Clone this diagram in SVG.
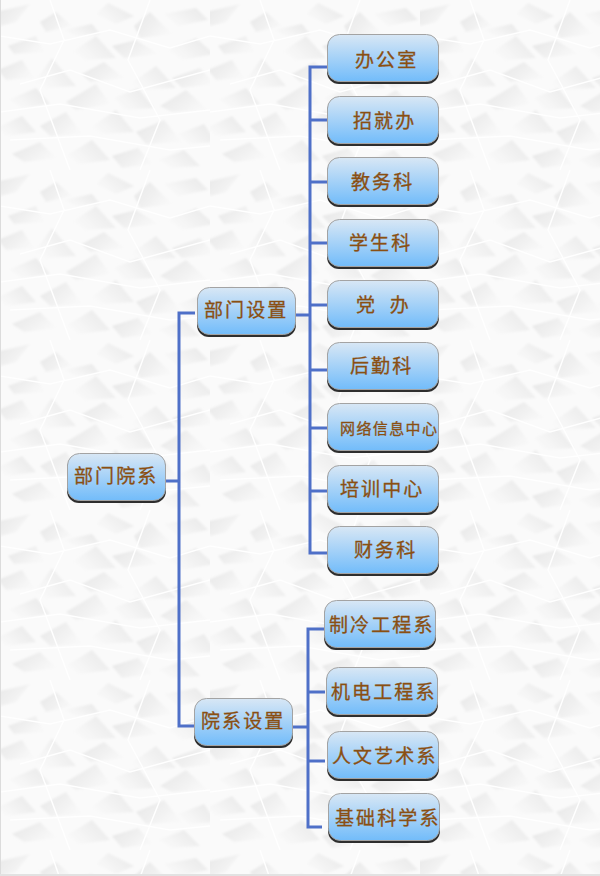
<svg xmlns="http://www.w3.org/2000/svg" width="600" height="876" viewBox="0 0 600 876">
<style>
.sh{fill:#2e2e2e}
.face{fill:url(#nodeFill);stroke:#a3a3a3;stroke-width:1}
text{font-family:"Noto Sans CJK SC","Noto Sans CJK TC",sans-serif;font-weight:400;fill:#8a4f12;font-size:19px;letter-spacing:2.1px;stroke:#8a4f12;stroke-width:.3}
.small{font-size:15px;letter-spacing:1.4px}
#connectors path{fill:none;stroke:#4f70c8;stroke-width:3}
.a{fill:url(#g1)}
.b{fill:url(#g2)}
.c{fill:none;stroke:#fff;stroke-width:1.5}
</style>
<defs>
<linearGradient id="nodeFill" x1="0" y1="0" x2="0" y2="1">
<stop offset="0" stop-color="#d8e7f5"/><stop offset="1" stop-color="#72bcfa"/>
</linearGradient>
<linearGradient id="g1" x1="0" y1="0" x2="1" y2="0.6"><stop offset="0" stop-color="#e6e6e6"/><stop offset="1" stop-color="#f8f8f8"/></linearGradient>
<linearGradient id="g2" x1="1" y1="0" x2="0" y2="0.6"><stop offset="0" stop-color="#e8e8e8"/><stop offset="1" stop-color="#f9f9f9"/></linearGradient>
<filter id="soft" x="-5%" y="-5%" width="110%" height="110%"><feGaussianBlur stdDeviation="1"/></filter>
<pattern id="paper" x="0" y="0" width="210" height="170" patternUnits="userSpaceOnUse">
<rect width="210" height="170" fill="#fafafa"/>
<g filter="url(#soft)">
<path class="a" d="M-4 12 30 4 16 22 0 26Z"/>
<path class="b" d="M96 14 108 3 134 16 116 24Z"/>
<path class="a" d="M40 22 56 12 72 26 46 32Z"/>
<path class="b" d="M64 30 92 24 100 34 74 36Z"/>
<path class="a" d="M134 26 150 12 172 34 140 38Z"/>
<path class="b" d="M164 14 196 8 208 20 178 26Z"/>
<path class="a" d="M8 46 36 36 44 52 14 54Z"/>
<path class="b" d="M72 52 96 36 116 58 84 60Z"/>
<path class="a" d="M112 46 136 40 158 54 124 58Z"/>
<path class="b" d="M168 50 196 38 214 54 182 60Z"/>
<path class="a" d="M-2 70 22 60 34 78 6 80Z"/>
<path class="b" d="M34 82 52 58 76 86 46 88Z"/>
<path class="a" d="M82 74 104 62 124 78 90 82Z"/>
<path class="b" d="M130 84 156 66 176 88 142 90Z"/>
<path class="a" d="M172 78 200 68 214 84 182 88Z"/>
<path class="b" d="M8 100 36 88 50 104 20 108Z"/>
<path class="a" d="M66 102 96 84 110 104 76 110Z"/>
<path class="b" d="M114 98 138 88 154 108 124 110Z"/>
<path class="a" d="M160 106 186 90 208 110 172 112Z"/>
<path class="b" d="M-4 128 22 116 36 132 6 136Z"/>
<path class="a" d="M40 126 66 112 82 134 50 136Z"/>
<path class="b" d="M90 128 116 110 134 132 100 134Z"/>
<path class="a" d="M136 132 164 120 182 142 146 144Z"/>
<path class="b" d="M178 134 204 124 216 142 188 144Z"/>
<path class="a" d="M12 154 40 142 56 158 24 162Z"/>
<path class="b" d="M66 156 92 140 110 160 78 164Z"/>
<path class="a" d="M112 156 138 148 152 164 122 168Z"/>
<path class="b" d="M158 160 184 150 200 166 170 168Z"/>
</g>
<path class="c" d="M0 36 50 44 110 30 170 48 210 36M20 84 70 70 130 92 210 70M0 112 60 104 140 118 210 110M10 140 90 136 170 150 210 146M50 0 64 40 40 90 70 170M150 0 128 60 160 120 140 170"/>
</pattern>
</defs>
<rect id="background" width="600" height="876" fill="url(#paper)"/>
<rect x="0" y="0" width="1" height="876" fill="#dcdcdc"/>
<rect x="0" y="874" width="600" height="2" fill="#e2e2e2"/>
<g id="connectors">
<path d="M166 481H179M195 313H179V726H194"/>
<path d="M296 315H310M327 67H310V553H327M310 120H327M310 182H327M310 243H327M310 305H327M310 370H327M310 428H327M310 491H327"/>
<path d="M293 727H308M325 629H308V827H322M308 692H325M308 761H325"/>
</g>
<g id="n-root"><rect class="sh" x="67" y="456" width="99" height="47" rx="12"/><rect class="face" x="67.500" y="453.500" width="98" height="47" rx="12"/><text x="74" y="483">部门院系</text></g>
<g id="n-dept"><rect class="sh" x="197" y="290" width="99" height="47" rx="12"/><rect class="face" x="197.500" y="287.500" width="98" height="47" rx="12"/><text x="204" y="317">部门设置</text></g>
<g id="n-college"><rect class="sh" x="194" y="701" width="99" height="47" rx="12"/><rect class="face" x="194.500" y="698.500" width="98" height="47" rx="12"/><text x="201" y="728">院系设置</text></g>
<g id="n-office"><rect class="sh" x="327" y="37" width="112" height="47" rx="12"/><rect class="face" x="327.500" y="34.500" width="111" height="47" rx="12"/><text x="355" y="67">办公室</text></g>
<g id="n-jobs"><rect class="sh" x="327" y="99" width="112" height="47" rx="12"/><rect class="face" x="327.500" y="96.500" width="111" height="47" rx="12"/><text x="353" y="128">招就办</text></g>
<g id="n-teaching"><rect class="sh" x="327" y="160" width="112" height="47" rx="12"/><rect class="face" x="327.500" y="157.500" width="111" height="47" rx="12"/><text x="351" y="189">教务科</text></g>
<g id="n-student"><rect class="sh" x="327" y="222" width="112" height="47" rx="12"/><rect class="face" x="327.500" y="219.500" width="111" height="47" rx="12"/><text x="349" y="250">学生科</text></g>
<g id="n-party"><rect class="sh" x="327" y="283" width="112" height="47" rx="12"/><rect class="face" x="327.500" y="280.500" width="111" height="47" rx="12"/><text x="356" y="312" xml:space="preserve">党  办</text></g>
<g id="n-logistics"><rect class="sh" x="327" y="345" width="112" height="47" rx="12"/><rect class="face" x="327.500" y="342.500" width="111" height="47" rx="12"/><text x="350" y="373">后勤科</text></g>
<g id="n-network"><rect class="sh" x="327" y="406" width="112" height="47" rx="12"/><rect class="face" x="327.500" y="403.500" width="111" height="47" rx="12"/><text class="small" x="340" y="434">网络信息中心</text></g>
<g id="n-training"><rect class="sh" x="327" y="468" width="112" height="47" rx="12"/><rect class="face" x="327.500" y="465.500" width="111" height="47" rx="12"/><text x="340" y="496">培训中心</text></g>
<g id="n-finance"><rect class="sh" x="327" y="529" width="112" height="47" rx="12"/><rect class="face" x="327.500" y="526.500" width="111" height="47" rx="12"/><text x="354" y="557">财务科</text></g>
<g id="n-refrig"><rect class="sh" x="324" y="603" width="112" height="47" rx="12"/><rect class="face" x="324.500" y="600.500" width="111" height="47" rx="12"/><text x="329" y="632">制冷工程系</text></g>
<g id="n-mech"><rect class="sh" x="326" y="670" width="112" height="47" rx="12"/><rect class="face" x="326.500" y="667.500" width="111" height="47" rx="12"/><text x="331" y="699">机电工程系</text></g>
<g id="n-arts"><rect class="sh" x="327" y="734" width="112" height="47" rx="12"/><rect class="face" x="327.500" y="731.500" width="111" height="47" rx="12"/><text x="332" y="763">人文艺术系</text></g>
<g id="n-science"><rect class="sh" x="328" y="796" width="112" height="47" rx="12"/><rect class="face" x="328.500" y="793.500" width="111" height="47" rx="12"/><text x="335" y="825">基础科学系</text></g>
</svg>
